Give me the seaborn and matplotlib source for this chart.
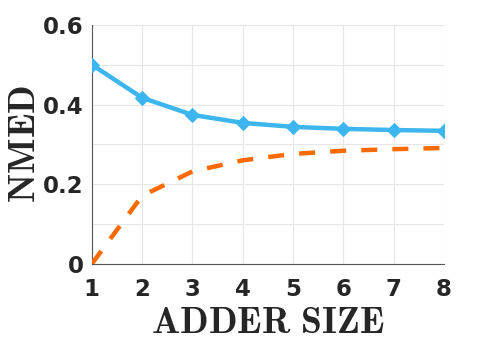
import numpy as np
import pandas as pd
import seaborn as sns
import matplotlib.pyplot as plt
from matplotlib.ticker import MultipleLocator

# values
adder_size = [1, 2, 3, 4, 5, 6, 7, 8]
nmed_blue = [0.500, 0.417, 0.374, 0.354, 0.344, 0.339, 0.336, 0.334]
nmed_orange = [0.000, 0.171, 0.232, 0.260, 0.276, 0.284, 0.288, 0.291]

sns.set_style("white")
plt.rcParams['mathtext.fontset'] = 'cm'
plt.rcParams['font.family'] = ['DejaVu Sans']

fig = plt.figure(figsize=(4.91, 3.5), dpi=100)
ax = fig.add_axes([0.187, 0.246, 0.717, 0.683])

df = pd.DataFrame({'size': adder_size, 'blue': nmed_blue, 'orange': nmed_orange})

sns.lineplot(data=df, x='size', y='blue', ax=ax, color='#3DB5EF', lw=3.2,
             marker='D', markersize=7, markeredgecolor='#3DB5EF', zorder=3)
sns.lineplot(data=df, x='size', y='orange', ax=ax, color='#FF6A00', lw=3.2,
             zorder=3)
ax.lines[-1].set_dashes([3.6, 3.4])

ax.set_xlim(1, 8)
ax.set_ylim(0, 0.6)
ax.set_xticks(adder_size)
ax.set_yticks([0, 0.2, 0.4, 0.6])
ax.set_yticklabels(['0', '0.2', '0.4', '0.6'])
ax.yaxis.set_minor_locator(MultipleLocator(0.1))
ax.grid(True, which='both', color='#E6E6E6', lw=0.8)
ax.set_axisbelow(True)
ax.tick_params(axis='both', which='both', direction='in', length=4,
               color='#555555', width=0.8, labelsize=16.5)
ax.tick_params(axis='x', pad=10)
ax.tick_params(axis='y', pad=6)
for lab in ax.get_xticklabels() + ax.get_yticklabels():
    lab.set_fontweight('bold')
    lab.set_color('#262626')

for s in ['top', 'right']:
    ax.spines[s].set_visible(False)
for s in ['left', 'bottom']:
    ax.spines[s].set_color('#555555')
    ax.spines[s].set_linewidth(0.8)

ax.set_xlabel(r'$\mathbf{ADDER\ SIZE}$', fontsize=27, color='#262626', labelpad=3)
ax.set_ylabel(r'$\mathbf{NMED}$', fontsize=27, color='#262626', labelpad=0)

fig.savefig('out.png', dpi=100)
